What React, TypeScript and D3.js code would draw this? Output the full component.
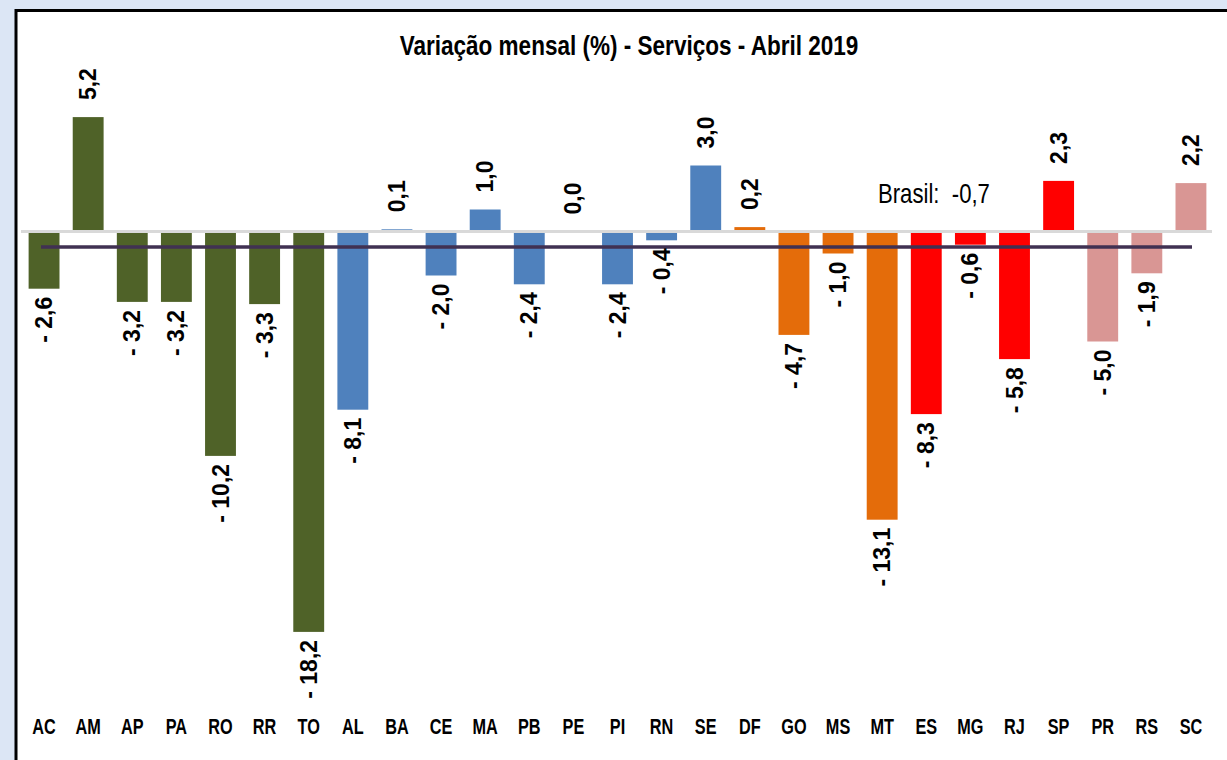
import React from "react";
import * as d3 from "d3";

const states = ["AC","AM","AP","PA","RO","RR","TO","AL","BA","CE","MA","PB","PE","PI","RN","SE","DF","GO","MS","MT","ES","MG","RJ","SP","PR","RS","SC"];
const values = [-2.6,5.2,-3.2,-3.2,-10.2,-3.3,-18.2,-8.1,0.1,-2.0,1.0,-2.4,0.0,-2.4,-0.4,3.0,0.2,-4.7,-1.0,-13.1,-8.3,-0.6,-5.8,2.3,-5.0,-1.9,2.2];
const regions = ["N","N","N","N","N","N","N","NE","NE","NE","NE","NE","NE","NE","NE","NE","CO","CO","CO","CO","SE","SE","SE","SE","S","S","S"];
const regionKeys = ["N","NE","CO","SE","S"];
const regionColors = ["#4f6228","#4f81bd","#e46c0a","#ff0000","#d99694"];
const brasilValue = -0.7;
const title = "Variação mensal (%) - Serviços - Abril 2019";

const W = 1227, H = 760;
const SANS = "'Liberation Sans', Arial, sans-serif";

const fmt = (v: number) => {
  const s = d3.format(".1f")(Math.abs(v)).replace(".", ",");
  return v < 0 ? "- " + s : s;
};

export default function App() {
  const x = d3.scaleBand<string>().domain(states).range([22, 1213]).paddingInner(0.3).paddingOuter(0.15);
  const y = d3.scaleLinear().domain([-20, 8]).range([671.5, 55.5]);
  const color = d3.scaleOrdinal<string, string>().domain(regionKeys).range(regionColors);
  const y0 = y(0);
  const bw = x.bandwidth();

  return (
    <svg width={W} height={H} style={{ position: "absolute", left: 0, top: 0 }}>
      <rect x={0} y={0} width={W} height={H} fill="#dce6f5" />
      <rect x={16} y={10.5} width={W + 20} height={H + 20} fill="#ffffff" stroke="#000" strokeWidth={3} />
      <text transform="translate(629,55) scale(0.82,1)" textAnchor="middle" fontFamily={SANS} fontWeight="bold" fontSize={27.5} fill="#000">{title}</text>
      {states.map((s, i) => {
        const v = values[i];
        const top = v >= 0 ? y(v) : y0 + 1.5;
        const bot = v >= 0 ? y0 - 1.5 : y(v);
        return (
          <rect key={s} x={x(s)} y={top} width={bw} height={Math.max(0, bot - top)} fill={color(regions[i])} />
        );
      })}
      <line x1={21} x2={1212} y1={y0} y2={y0} stroke="#d9d9d9" strokeWidth={3} />
      <line x1={41} x2={1192} y1={y(brasilValue)} y2={y(brasilValue)} stroke="#403152" strokeWidth={3.5} />
      {states.map((s, i) => {
        const v = values[i];
        const cx = (x(s) as number) + bw / 2;
        const pos = v >= 0 ? y(v) - 17 : y(v) + 8;
        return (
          <text key={"l" + s} transform={`translate(${cx},${pos}) rotate(-90)`} dy="0.35em"
            textAnchor={v >= 0 ? "start" : "end"} fontFamily={SANS} fontWeight="bold" fontSize={23} fill="#000"
            style={{ whiteSpace: "pre" }}>{fmt(v)}</text>
        );
      })}
      {states.map((s) => (
        <text key={"c" + s} transform={`translate(${(x(s) as number) + bw / 2},734) scale(0.74,1)`} textAnchor="middle" fontFamily={SANS}
          fontWeight="bold" fontSize={22} fill="#000">{s}</text>
      ))}
      <text transform="translate(878,203) scale(0.82,1)" fontFamily={SANS} fontSize={27} fill="#000" style={{ whiteSpace: "pre" }}>
        {"Brasil:  " + fmt(brasilValue).replace("- ", "-")}
      </text>
    </svg>
  );
}
